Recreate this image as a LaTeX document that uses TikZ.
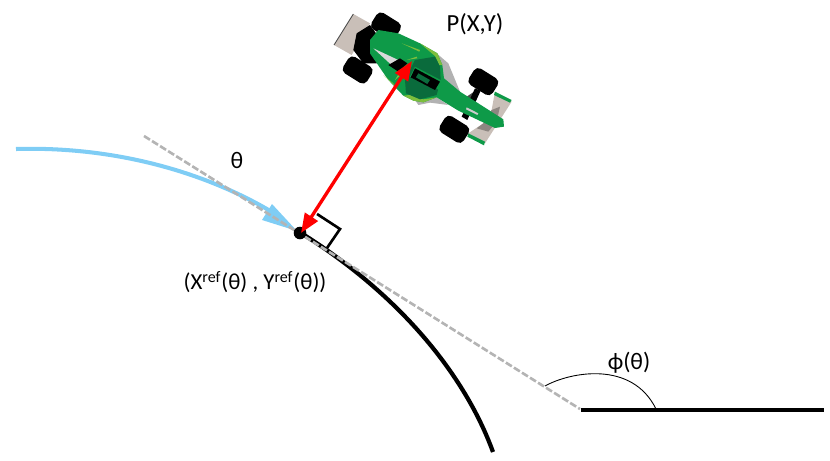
\documentclass[tikz,border=0pt]{standalone}
\usepackage{fontspec}
\setmainfont{Carlito}
\usetikzlibrary{arrows.meta}
\definecolor{pathblue}{HTML}{7FCDF5}
\definecolor{tangentgrey}{HTML}{B4B4B4}
\definecolor{bodygreen}{HTML}{0E9A48}
\definecolor{darkgreen}{HTML}{0A6B3C}
\definecolor{limegreen}{HTML}{7DBE3C}
\definecolor{wingtan}{HTML}{C9BFB8}
\tikzset{
	label text/.style={font=\fontsize{13.5}{16}\selectfont, inner sep=0pt},
	tangent/.style={tangentgrey, line width=1.5pt, dash pattern=on 4pt off 1.4pt},
	tyre/.style={black, rounded corners=3pt},
}
\newcommand{\cartyre}[2]{\begin{scope}[shift={(#1,#2)}, rotate=-32]
		\fill[tyre] (-42,-29) rectangle (42,29);
	\end{scope}}
\begin{document}
\begin{tikzpicture}[x=0.02cm, y=-0.02cm]
	\useasboundingbox (0,0) rectangle (830,460);

	\coordinate (foot) at (301,233);
	\coordinate (car) at (412,61);
	\coordinate (tangentstart) at (144,136);
	\coordinate (tangentend) at (580,409);

	\draw[black, line width=2.4pt] (foot) .. controls (400,295) and (465,375) .. (493,452);
	\draw[pathblue, line width=2.3pt] (16,149) .. controls (120,146) and (210,175) .. (272,212);
	\fill[pathblue] (272,204) -- (262,220) -- (297,231) -- cycle;
	\draw[black, line width=1.5pt] (317,214) -- (340,229) -- (327,248);
	\draw[tangent] (tangentstart) -- (tangentend);
	\fill[black] (300,233) circle (6.3);

	\begin{scope}[shift={(320,0)}, scale=0.3333]
		\fill[wingtan] (100,42) -- (150,70) -- (95,165) -- (42,135) -- cycle;
		\draw[black!70, line width=0.5pt] (100,42) -- (42,135);
		\fill[black] (110,100) -- (150,75) -- (190,130) -- (170,190) -- (130,190) -- (100,150) -- cycle;
		\fill[black!70] (440,290) -- (470,270) -- (480,275) -- (445,300) -- cycle;
		\fill[black] (425,350) -- (465,265) -- (482,272) -- (442,360) -- cycle;
		\fill[gray!60] (350,160) -- (385,190) -- (420,275) -- (395,285) -- (350,230) -- cycle;
		\fill[gray!60] (285,300) -- (340,285) -- (385,315) -- (330,308) -- (295,315) -- cycle;
		\fill[wingtan] (525,275) -- (575,305) -- (495,430) -- (445,400) -- (490,370) -- (515,330) -- cycle;
		\fill[wingtan!70!black] (515,330) -- (540,320) -- (530,365) -- (505,395) -- (470,385) -- (490,370) -- cycle;
		\fill[bodygreen] (525,275) -- (575,300) -- (570,308) -- (522,285) -- cycle;
		\fill[bodygreen] (445,400) -- (495,425) -- (492,436) -- (442,410) -- cycle;
		\cartyre{198}{78}
		\cartyre{113}{210}
		\cartyre{490}{245}
		\cartyre{403}{388}
		\fill[bodygreen] (150,120) -- (175,90) -- (235,100) -- (300,130) -- (352,160) -- (367,195) -- (372,235) -- (420,275) -- (550,358) -- (552,380) -- (525,384) -- (415,332) -- (350,292) -- (310,307) -- (280,302) -- (250,287) -- (205,240) -- (150,160) -- cycle;
		\fill[limegreen] (300,130) -- (352,160) -- (367,195) -- (358,195) -- (345,168) -- cycle;
		\fill[limegreen] (250,287) -- (280,302) -- (310,307) -- (350,292) -- (310,298) -- (270,285) -- cycle;
		\fill[darkgreen] (285,180) -- (345,170) -- (360,200) -- (362,240) -- (350,285) -- (300,298) -- (258,280) -- (255,240) -- cycle;
		\fill[bodygreen] (270,230) -- (350,265) -- (415,322) -- (527,376) -- (545,362) -- (415,290) -- (362,240) -- (285,200) -- cycle;
		\fill[white!85!black] (160,145) -- (235,180) -- (220,200) -- cycle;
		\fill[black] (205,195) -- (240,175) -- (262,190) -- (235,215) -- cycle;
		\fill[black] (285,205) -- (360,245) -- (345,270) -- (272,232) -- cycle;
		\fill[darkgreen] (295,220) -- (330,240) -- (322,252) -- (288,232) -- cycle;
		\fill[white!80!black] (440,322) -- (475,340) -- (472,345) -- (438,328) -- cycle;
		\fill[limegreen] (260,180) -- (290,170) -- (292,175) -- cycle;
		\fill[limegreen] (245,130) -- (300,150) -- (298,155) -- cycle;
		\fill[limegreen] (190,225) -- (220,250) -- (225,258) -- cycle;
		\fill[limegreen] (225,240) -- (240,215) -- (243,225) -- cycle;
	\end{scope}

	\draw[{Triangle[length=11pt,width=8.5pt]}-{Triangle[length=11pt,width=8.5pt]}, red, line width=1.9pt] (foot) -- (car);

	\draw[black, line width=2pt] (tangentend) ++(1,1) -- (824,410);
	\draw[black, line width=0.5pt] (545,386) .. controls (570,372) and (632,360) .. (656,409);

	\node[label text, font=\fontsize{14}{16}\selectfont] (pointlabel) at (475,24) {P(X,Y)};
	\node[label text] (thetalabel) at (237,160) {θ};
	\node[label text, font=\fontsize{13}{15}\selectfont] (footlabel) at (255,282) {(X\textsuperscript{ref}(θ) , Y\textsuperscript{ref}(θ))};
	\node[label text] (philabel) at (629,363) {ϕ(θ)};
\end{tikzpicture}
\end{document}
